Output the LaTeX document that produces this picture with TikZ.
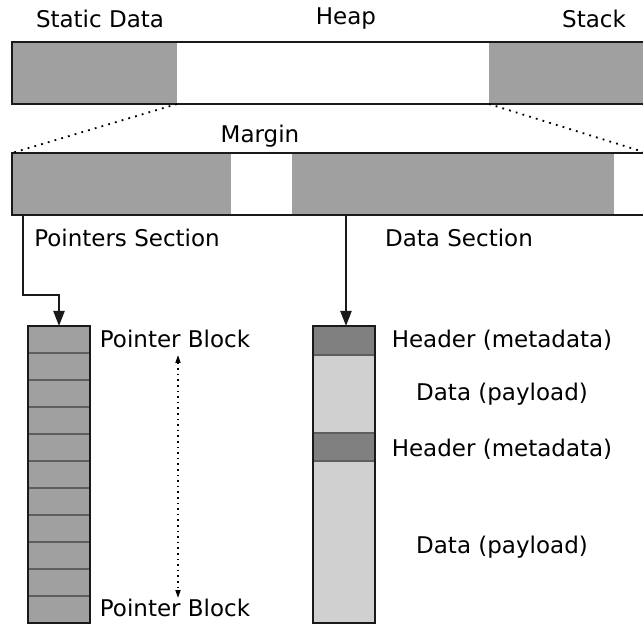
\documentclass[tikz,border=0pt]{standalone}
\usepackage{fontspec}
\setmainfont{DejaVu Sans}
\usetikzlibrary{arrows.meta}
\definecolor{midgray}{HTML}{A0A0A0}
\definecolor{hdrgray}{HTML}{808080}
\definecolor{lightgray}{HTML}{D0D0D0}
\definecolor{sepgray}{HTML}{5E5E5E}
\definecolor{ink}{HTML}{1A1A1A}
\newcommand{\lblfont}{\fontsize{23}{27}\selectfont}
\tikzset{
  seg/.style={draw=none, inner sep=0pt, outer sep=0pt, anchor=north west},
  frame/.style={draw=ink, line width=2.2pt, fill=none, inner sep=0pt, outer sep=0pt, anchor=north west},
  cell/.style={draw=sepgray, line width=2.2pt, inner sep=0pt, outer sep=0pt, anchor=north west, minimum width=62pt},
  lbl/.style={font=\lblfont, inner sep=0pt, anchor=base, text=black},
  zoomline/.style={line width=1.8pt, black, dash pattern=on 1.8pt off 5.2pt},
  arr/.style={draw=ink, line width=2.2pt, -{Triangle[length=15pt, width=11pt]}},
  span/.style={line width=1.6pt, black, dash pattern=on 1.6pt off 4pt,
    {Triangle[length=8pt, width=5pt]}-{Triangle[length=8pt, width=5pt]}}
}
\begin{document}
\begin{tikzpicture}[x=1pt, y=-1pt]
\useasboundingbox (0,0) rectangle (643,628);
\clip (0,0) rectangle (643,628);

% memory layout bar
\node[seg, fill=midgray, minimum width=165pt, minimum height=62pt] (static) at (12,42) {};
\node[seg, fill=white, minimum width=312pt, minimum height=62pt] (heap) at (177,42) {};
\node[seg, fill=midgray, minimum width=170pt, minimum height=62pt] (stack) at (489,42) {};
\node[frame, minimum width=645pt, minimum height=62pt] (bar1) at (12,42) {};

\node[lbl] (lstatic) at (100,28) {Static Data};
\node[lbl] (lheap) at (346,25) {Heap};
\node[lbl] (lstack) at (594,28) {Stack};

% heap detail bar
\node[seg, fill=midgray, minimum width=219pt, minimum height=62pt] (ptrsec) at (12,153) {};
\node[seg, fill=white, minimum width=61pt, minimum height=62pt] (margin) at (231,153) {};
\node[seg, fill=midgray, minimum width=322pt, minimum height=62pt] (datasec) at (292,153) {};
\node[seg, fill=white, minimum width=45pt, minimum height=62pt] (free) at (614,153) {};
\node[frame, minimum width=645pt, minimum height=62pt] (bar2) at (12,153) {};
\coordinate (zoomr) at (647,153);

\draw[zoomline] (heap.south west) -- (bar2.north west);
\draw[zoomline] (heap.south east) -- (zoomr);

\node[lbl] (lmargin) at (260,143) {Margin};
\node[lbl] (lptrsec) at (127,247) {Pointers Section};
\node[lbl] (ldatasec) at (459,247) {Data Section};

% pointer blocks
\foreach \i in {0,...,10} {
  \node[cell, fill=midgray, minimum height=27pt] (pb\i) at (28,{326+27*\i}) {};
}
\node[frame, minimum width=62pt, minimum height=297pt] (ptrcol) at (28,326) {};

\node[lbl] (lpb1) at (175,348) {Pointer Block};
\node[lbl] (lpb2) at (175,616) {Pointer Block};
\coordinate (spantop) at (178,355);
\coordinate (spanbot) at (178,598);
\draw[span] (spantop) -- (spanbot);

% data blocks
\node[cell, fill=hdrgray, minimum height=29pt] (hdr1) at (313,326) {};
\node[cell, fill=lightgray, minimum height=78pt] (pay1) at (313,355) {};
\node[cell, fill=hdrgray, minimum height=28pt] (hdr2) at (313,433) {};
\node[cell, fill=lightgray, minimum height=162pt] (pay2) at (313,461) {};
\node[frame, minimum width=62pt, minimum height=297pt] (datacol) at (313,326) {};

\node[lbl] (lhdr1) at (502,348) {Header (metadata)};
\node[lbl] (lpay1) at (502,400) {Data (payload)};
\node[lbl] (lhdr2) at (502,456) {Header (metadata)};
\node[lbl] (lpay2) at (502,553) {Data (payload)};

% connectors
\coordinate (ptrsrc) at (23,215);
\coordinate (datasrc) at (346,215);
\draw[arr] (ptrsrc) -- ++(0,80) -| (ptrcol.north);
\draw[arr] (datasrc) -- (datasrc |- datacol.north);
\end{tikzpicture}
\end{document}
